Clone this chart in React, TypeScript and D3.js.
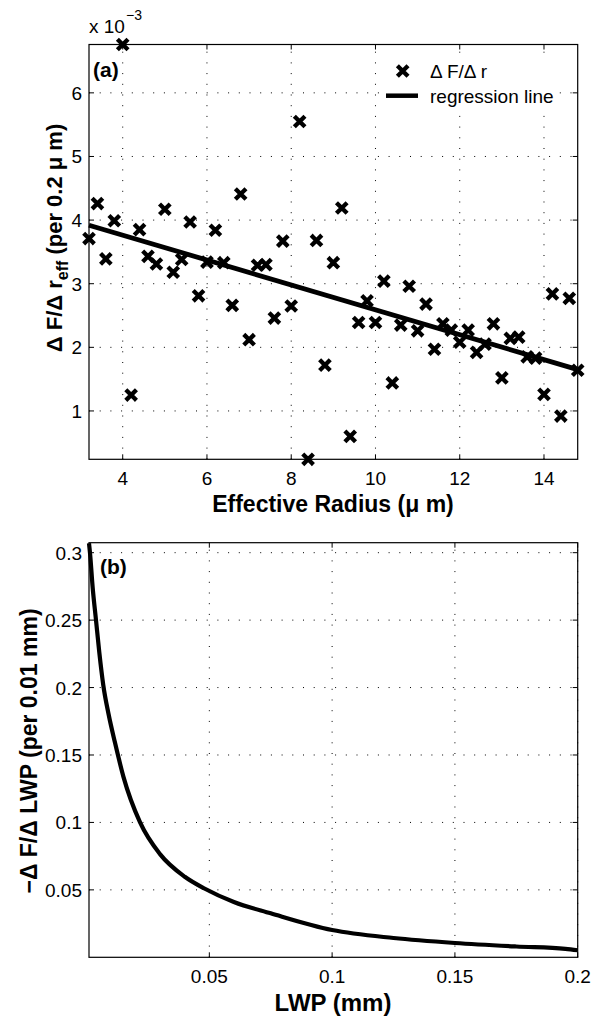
import React from "react";
import * as d3 from "d3";

// panel (a): dF/dr per 0.2 um, values in units of 1e-3
const effRadius = [
  3.2, 3.4, 3.6, 3.8, 4.0, 4.2, 4.4, 4.6, 4.8, 5.0, 5.2, 5.4, 5.6, 5.8, 6.0,
  6.2, 6.4, 6.6, 6.8, 7.0, 7.2, 7.4, 7.6, 7.8, 8.0, 8.2, 8.4, 8.6, 8.8, 9.0,
  9.2, 9.4, 9.6, 9.8, 10.0, 10.2, 10.4, 10.6, 10.8, 11.0, 11.2, 11.4, 11.6,
  11.8, 12.0, 12.2, 12.4, 12.6, 12.8, 13.0, 13.2, 13.4, 13.6, 13.8, 14.0,
  14.2, 14.4, 14.6, 14.8,
];
const dFdr = [
  3.71, 4.26, 3.39, 3.99, 6.76, 1.25, 3.85, 3.43, 3.31, 4.17, 3.18, 3.38, 3.97,
  2.81, 3.34, 3.84, 3.33, 2.66, 4.41, 2.12, 3.29, 3.3, 2.46, 3.67, 2.65, 5.55,
  0.24, 3.68, 1.72, 3.33, 4.19, 0.6, 2.39, 2.73, 2.39, 3.04, 1.44, 2.35, 2.96,
  2.26, 2.68, 1.97, 2.37, 2.27, 2.08, 2.27, 1.92, 2.05, 2.37, 1.52, 2.14, 2.16,
  1.85, 1.83, 1.26, 2.84, 0.92, 2.77, 1.64,
];
const regX = [3.2, 14.8];
const regY = [3.92, 1.65];
const aTicksX = [4, 6, 8, 10, 12, 14];
const aTicksY = [1, 2, 3, 4, 5, 6];

// panel (b): -dF/dLWP per 0.01 mm
const lwp = [
  0.001, 0.0014, 0.0025, 0.00385, 0.0052, 0.0068, 0.009, 0.0116, 0.015,
  0.0218, 0.03, 0.04, 0.048, 0.06, 0.075, 0.1, 0.125, 0.15, 0.175, 0.195, 0.2,
];
const dFdLwp = [
  0.307, 0.3, 0.274, 0.25, 0.226, 0.202, 0.18, 0.159, 0.134, 0.1, 0.0763,
  0.0597, 0.051, 0.041, 0.0326, 0.0202, 0.0143, 0.0106, 0.008, 0.0063, 0.0052,
];
const bTicksX = [0.05, 0.1, 0.15, 0.2];
const bTicksY = [0.05, 0.1, 0.15, 0.2, 0.25, 0.3];

const font = "'Liberation Sans', Arial, Helvetica, sans-serif";
const left = 89;
const right = 577.7;

function Frame({ x, y, xt, yt }) {
  const [x0, x1] = x.range();
  const [y0, y1] = y.range();
  const tick = 5;
  return (
    <g>
      {xt.map((t) => (
        <line key={"gx" + t} x1={x(t)} x2={x(t)} y1={y0} y2={y1}
          stroke="#000" strokeWidth={1} strokeDasharray="1 9.7" />
      ))}
      {yt.map((t) => (
        <line key={"gy" + t} x1={x0} x2={x1} y1={y(t)} y2={y(t)}
          stroke="#000" strokeWidth={1} strokeDasharray="1 9.7" />
      ))}
      {xt.map((t) => (
        <g key={"tx" + t}>
          <line x1={x(t)} x2={x(t)} y1={y0} y2={y0 - tick} stroke="#000" />
          <line x1={x(t)} x2={x(t)} y1={y1} y2={y1 + tick} stroke="#000" />
          <text x={x(t)} y={y0 + 26} textAnchor="middle" fontSize={19}>
            {String(t)}
          </text>
        </g>
      ))}
      {yt.map((t) => (
        <g key={"ty" + t}>
          <line x1={x0} x2={x0 + tick} y1={y(t)} y2={y(t)} stroke="#000" />
          <line x1={x1} x2={x1 - tick} y1={y(t)} y2={y(t)} stroke="#000" />
          <text x={x0 - 7} y={y(t) + 7} textAnchor="end" fontSize={19}>
            {String(t)}
          </text>
        </g>
      ))}
      <rect x={x0} y={y1} width={x1 - x0} height={y0 - y1}
        fill="none" stroke="#000" strokeWidth={1.2} />
    </g>
  );
}

function Cross({ cx, cy }) {
  const s = 3.8;
  return (
    <path d={`M${cx - s},${cy - s}L${cx + s},${cy + s}M${cx - s},${cy + s}L${cx + s},${cy - s}`}
      stroke="#000" strokeWidth={4.3} strokeLinecap="square" fill="none" />
  );
}

export default function App() {
  const xa = d3.scaleLinear().domain(d3.extent(effRadius)).range([left, right]);
  const ya = d3.scaleLinear().domain(d3.extent(dFdr)).range([459.3, 44.5]);
  const xb = d3.scaleLinear().domain([0.001, 0.2]).range([left, right]);
  const yb = d3.scaleLinear().domain([0, 0.3074]).range([957.3, 542.7]);

  const regLine = d3.line().x((d) => xa(d[0])).y((d) => ya(d[1]));
  const curve = d3
    .line()
    .x((d) => xb(d[0]))
    .y((d) => yb(d[1]))
    .curve(d3.curveMonotoneX);

  return (
    <svg width={599} height={1016} fontFamily={font}
      style={{ position: "absolute", left: 0, top: 0, background: "#fff" }}>
      <rect width={599} height={1016} fill="#fff" />

      {/* panel (a) */}
      <Frame x={xa} y={ya} xt={aTicksX} yt={aTicksY} />
      <path d={regLine(regX.map((v, i) => [v, regY[i]]))}
        stroke="#000" strokeWidth={4.8} fill="none" />
      {effRadius.map((r, i) => (
        <Cross key={i} cx={xa(r)} cy={ya(dFdr[i])} />
      ))}
      <text x={89} y={33} fontSize={19}>x 10</text>
      <text x={126} y={20} fontSize={14}>−3</text>
      <text x={93} y={77} fontSize={21} fontWeight="bold">(a)</text>

      <rect x={383} y={58} width={176} height={49} fill="#fff" />
      <Cross cx={402.7} cy={71} />
      <text x={430} y={78} fontSize={19}>Δ F/Δ r</text>
      <line x1={386} x2={418} y1={95.7} y2={95.7} stroke="#000" strokeWidth={4.5} />
      <text x={430} y={103} fontSize={19}>regression line</text>

      <text x={333} y={512} textAnchor="middle" fontSize={23} fontWeight="bold">
        Effective Radius (μ m)
      </text>
      <text transform="translate(62,238) rotate(-90)" textAnchor="middle"
        fontSize={22} fontWeight="bold">
        Δ F/Δ r<tspan dy={6} fontSize={16}>eff</tspan>
        <tspan dy={-6}> (per 0.2 μ m)</tspan>
      </text>

      {/* panel (b) */}
      <Frame x={xb} y={yb} xt={bTicksX} yt={bTicksY} />
      <path d={curve(lwp.map((v, i) => [v, dFdLwp[i]]))}
        stroke="#000" strokeWidth={4.2} fill="none" />
      <text x={100} y={574} fontSize={21} fontWeight="bold">(b)</text>
      <text x={333} y={1011} textAnchor="middle" fontSize={24} fontWeight="bold">
        LWP (mm)
      </text>
      <text transform="translate(37,751) rotate(-90)" textAnchor="middle"
        fontSize={23} fontWeight="bold">
        −Δ F/Δ LWP (per 0.01 mm)
      </text>
    </svg>
  );
}
